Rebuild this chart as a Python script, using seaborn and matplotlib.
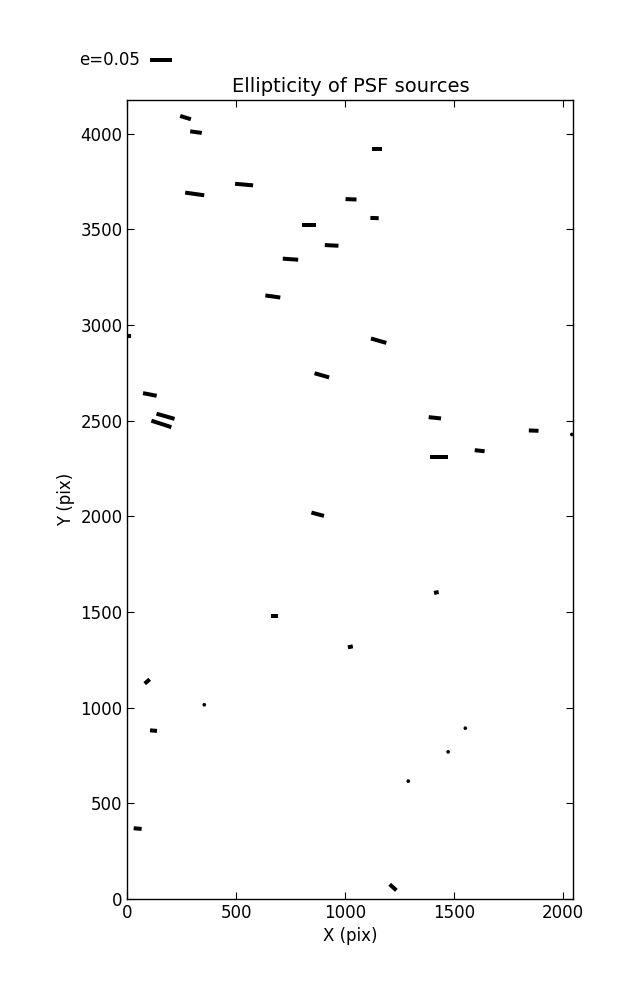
import numpy as np
import seaborn as sns
import matplotlib
matplotlib.use("Agg")
import matplotlib.pyplot as plt

# source positions (pix), ellipticity and on-screen position angle (deg)
x_pix = [267, 315, 1146, 309, 536, 1027, 1135, 834, 938, 749, 668, 5,
         1154, 893, 103, 175, 156, 874, 1412, 1431, 1618, 1866, 2041,
         675, 91, 353, 120, 1419, 1024, 1552, 1473, 1290, 47, 1220]
y_pix = [4084, 4008, 3918, 3685, 3734, 3657, 3559, 3522, 3416, 3344, 3149, 2940,
         2918, 2737, 2637, 2523, 2483, 2011, 2515, 2309, 2343, 2448, 2428,
         1478, 1137, 1015, 880, 1602, 1318, 893, 769, 616, 368, 61]
ellip = [0.0255, 0.0266, 0.0243, 0.0436, 0.0411, 0.0250, 0.0189, 0.0325, 0.0311, 0.0350, 0.0343, 0.010,
         0.0364, 0.0345, 0.0316, 0.0427, 0.0477, 0.0295, 0.0282, 0.0393, 0.0227, 0.0220, 0.009,
         0.0175, 0.0150, 0.004, 0.0159, 0.0107, 0.0114, 0.003, 0.003, 0.003, 0.0182, 0.0205]
angle = [-17, -8, 0, -8, -5, -2, -2, 0, -3, -4, -8, 0,
         -16, -16, -11, -16, -18, -15, -6, 0, -6, -2, 20,
         0, 41, 0, -5, 12, 11, 0, 0, 0, -5, -42]

sns.set_style("ticks")
plt.rcParams["font.family"] = ["DejaVu Sans"]
plt.rcParams["font.size"] = 12
plt.rcParams["text.color"] = "black"
plt.rcParams["axes.labelcolor"] = "black"
plt.rcParams["xtick.color"] = "black"
plt.rcParams["ytick.color"] = "black"

e = np.array(ellip)
th = np.radians(angle)
u = e * np.cos(th)
v = e * np.sin(th)

fig = plt.figure(figsize=(6.37, 10), dpi=100)
ax = fig.add_axes([0.2, 0.101, 0.7, 0.799])

q = ax.quiver(x_pix, y_pix, u, v, angles="uv", pivot="middle",
              scale_units="inches", scale=0.05 / 0.22, width=4, units="dots",
              headwidth=0, headlength=0, headaxislength=0, color="black")
ax.quiverkey(q, 0.236, 0.94, 0.05, "e=0.05", labelpos="W",
             coordinates="figure", fontproperties={"size": 12})

ax.set_xlim(0, 2048)
ax.set_ylim(0, 4176)
ax.set_xticks([0, 500, 1000, 1500, 2000])
ax.set_yticks([0, 500, 1000, 1500, 2000, 2500, 3000, 3500, 4000])
ax.tick_params(direction="in", top=True, right=True, length=5, width=0.8,
               labelsize=12)
for s in ax.spines.values():
    s.set_linewidth(1.0)
    s.set_color("black")
ax.set_xlabel("X (pix)", fontsize=12)
ax.set_ylabel("Y (pix)", fontsize=12)
ax.set_title("Ellipticity of PSF sources", fontsize=14)

fig.savefig("out.png", dpi=100, facecolor="white")
